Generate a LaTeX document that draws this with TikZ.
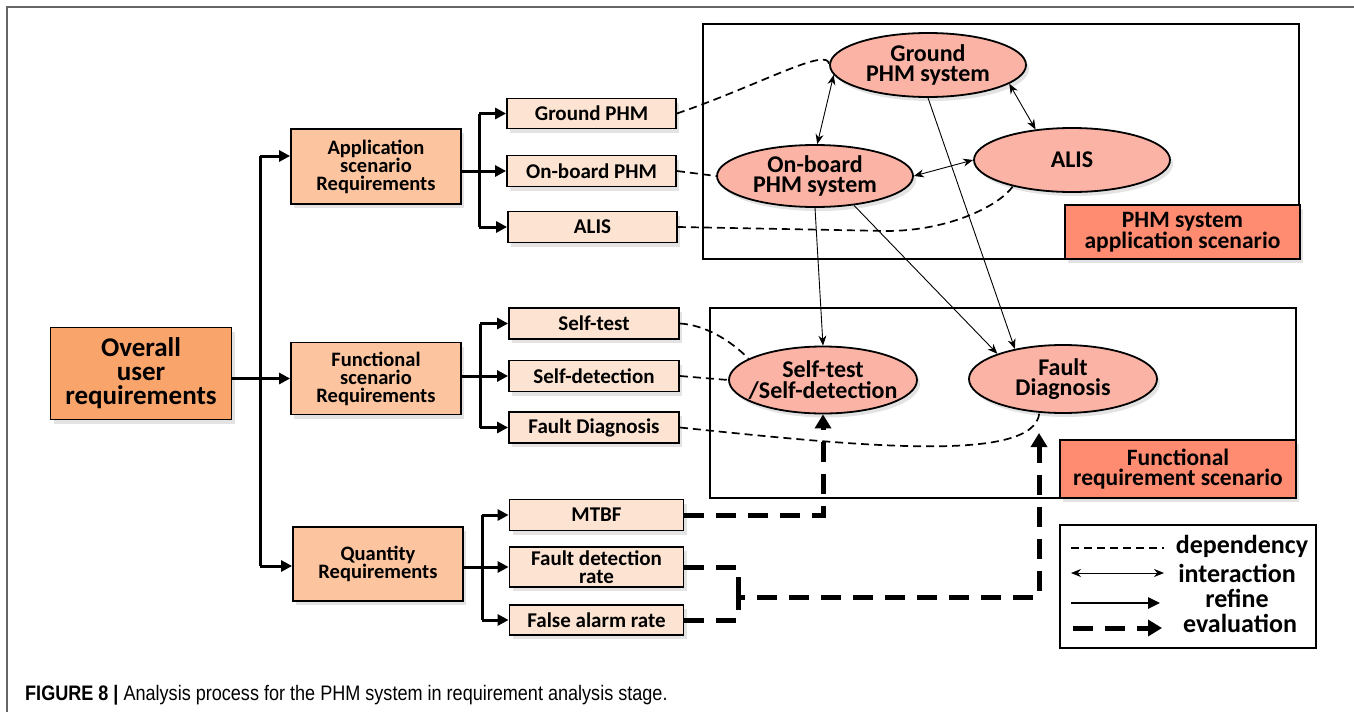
\documentclass[tikz,border=0pt]{standalone}
\usepackage{fontspec}
\setmainfont{Carlito}
\newfontfamily\capfont{Liberation Sans}
\usetikzlibrary{shapes.geometric,arrows.meta,shadows}
\definecolor{cOver}{HTML}{F9A46B}
\definecolor{cReq}{HTML}{FCC49F}
\definecolor{cSmall}{HTML}{FDE3D1}
\definecolor{cEll}{HTML}{FBB3A5}
\definecolor{cLab}{HTML}{FF8B71}
\definecolor{cFrame}{HTML}{666666}
\begin{document}
\begin{tikzpicture}[x=1pt,y=-1pt,
  sh/.style={drop shadow={shadow xshift=3pt,shadow yshift=-4pt,opacity=0.22}},
  box/.style={rectangle,draw,line width=1.8pt,inner sep=0pt,align=center,sh},
  overbox/.style={box,fill=cOver,font=\bfseries\fontsize{27}{24}\selectfont},
  reqbox/.style={box,fill=cReq,minimum width=170pt,font=\bfseries\fontsize{20.5}{18}\selectfont},
  smallbox/.style={box,fill=cSmall,font=\bfseries\fontsize{21}{18}\selectfont},
  ell/.style={ellipse,draw,line width=1.8pt,fill=cEll,inner sep=0pt,sh},
  elltext/.style={align=center,font=\bfseries\fontsize{24}{20.5}\selectfont,inner sep=0pt},
  region/.style={rectangle,draw,line width=1.8pt,inner sep=0pt},
  labbox/.style={box,fill=cLab,font=\bfseries\fontsize{23.5}{20}\selectfont},
  legtext/.style={font=\bfseries\fontsize{26}{21}\selectfont,inner sep=0pt},
  treeline/.style={line width=3pt},
  tree/.style={treeline,-{Triangle[length=11pt,width=11pt]}},
  dep/.style={line width=1.7pt,dash pattern=on 8pt off 5pt},
  thin/.style={line width=0.9pt,-{Stealth[length=10pt,width=8pt]}},
  inter/.style={line width=0.9pt,{Stealth[length=10pt,width=8pt]}-{Stealth[length=10pt,width=8pt]}},
  evalline/.style={line width=5pt,dash pattern=on 20pt off 12pt},
  evalarrow/.style={evalline,-{Triangle[length=14pt,width=16pt]}}
]
\useasboundingbox (0,0) rectangle (1354,712);
\fill[white] (0,0) rectangle (1354,712);
\draw[cFrame,line width=1.5pt] (7,712) -- (7,7) -- (1354,7);

% regions
\node[region,minimum width=596pt,minimum height=235pt] (reg1) at (1001,141.5) {};
\node[region,minimum width=586pt,minimum height=190pt] (reg2) at (1003,403) {};

% left tree
\node[overbox,minimum width=181pt,minimum height=92pt] (over) at (141,373.5) {Overall\\user\\requirements};
\node[reqbox,minimum height=75pt] (app) at (376,166.5) {Application\\scenario\\Requirements};
\node[reqbox,minimum height=72pt] (fun) at (376,378.5) {Functional\\scenario\\Requirements};
\node[reqbox,minimum height=74pt] (qty) at (378,564) {Quantity\\Requirements};

\node[smallbox,minimum width=169pt,minimum height=30pt] (gphm) at (591.5,113.5) {Ground PHM};
\node[smallbox,minimum width=169pt,minimum height=31pt] (ophm) at (591.5,171) {On-board PHM};
\node[smallbox,minimum width=169pt,minimum height=31pt] (alisb) at (592.5,227) {ALIS};
\node[smallbox,minimum width=170pt,minimum height=31pt] (stest) at (594,323.5) {Self-test};
\node[smallbox,minimum width=170pt,minimum height=31pt] (sdet) at (594,376) {Self-detection};
\node[smallbox,minimum width=170pt,minimum height=31pt] (fdiag) at (594,427.5) {Fault Diagnosis};
\node[smallbox,minimum width=174pt,minimum height=31pt] (mtbf) at (596.5,515) {MTBF};
\node[smallbox,minimum width=174pt,minimum height=40pt] (fdr) at (596.5,567) {Fault detection\\rate};
\node[smallbox,minimum width=174pt,minimum height=30pt] (far) at (596.5,620) {False alarm rate};

% ellipses
\node[ell,minimum width=196pt,minimum height=64pt,label={[elltext]center:Ground\\PHM system}] (gell) at (928,65) {};
\node[ell,minimum width=196pt,minimum height=62pt,label={[elltext]center:On-board\\PHM system}] (oell) at (815,176) {};
\node[ell,minimum width=196pt,minimum height=64pt,label={[elltext]center:ALIS}] (aell) at (1072,160) {};
\node[ell,minimum width=188pt,minimum height=67pt,label={[elltext]center:Self-test\\/Self-detection}] (sell) at (823,380) {};
\node[ell,minimum width=188pt,minimum height=68pt,label={[elltext]center:Fault\\Diagnosis}] (fell) at (1063,379) {};

% label boxes
\node[labbox,minimum width=235pt,minimum height=54pt] (lab1) at (1182.5,232) {PHM system\\application scenario};
\node[labbox,minimum width=236pt,minimum height=58pt] (lab2) at (1178,469) {Functional\\requirement scenario};

% tree connectors
\coordinate (ta) at (260,156);
\coordinate (tq) at (260,566);
\coordinate (ba) at (479,170);
\coordinate (bf) at (480,378);
\coordinate (bq) at (482,567);
\draw[treeline] (ta) -- (tq);
\draw[tree] (ta) -- (app.west |- ta);
\draw[tree] (tq) -- (qty.west |- tq);
\draw[tree] (over.east |- fun.west) -- (fun.west);

\draw[tree] (app.east |- ophm.west) -- (ophm.west);
\draw[treeline] (ba |- gphm.west) -- (ba |- alisb.west);
\draw[tree] (ba |- gphm.west) -- (gphm.west);
\draw[tree] (ba |- alisb.west) -- (alisb.west);

\draw[tree] (fun.east |- sdet.west) -- (sdet.west);
\draw[treeline] (bf |- stest.west) -- (bf |- fdiag.west);
\draw[tree] (bf |- stest.west) -- (stest.west);
\draw[tree] (bf |- fdiag.west) -- (fdiag.west);

\draw[tree] (qty.east |- fdr.west) -- (fdr.west);
\draw[treeline] (bq |- mtbf.west) -- (bq |- far.west);
\draw[tree] (bq |- mtbf.west) -- (mtbf.west);
\draw[tree] (bq |- far.west) -- (far.west);

% dependency
\draw[dep] (gphm.east) .. controls (760,85) and (830,45) .. (gell.west);
\draw[dep] (ophm.east) -- (oell.west);
\coordinate (d3) at (886,231);
\draw[dep] (alisb.east) -- (d3) .. controls (950,231) and (1000,205) .. (aell.204);
\draw[dep] (stest.east) .. controls (705,325) and (730,340) .. (sell.164);
\draw[dep] (sdet.east) -- (sell.west);
\draw[dep] (fdiag.east) .. controls (850,445) and (1035,465) .. (fell.235);

% interaction
\draw[inter] (gell.186) -- (oell.86);
\draw[inter] (gell.347) -- (aell.140);
\draw[inter] (oell.east) -- (aell.west);

% refine
\draw[thin] (oell.south) -- (sell.north);
\draw[thin] (oell.323) -- (fell.159);
\draw[thin] (gell.south) -- (fell.148);

% evaluation
\draw[evalarrow] (mtbf.east) -| (sell.south);
\coordinate (ej) at (738,597);
\coordinate (et) at (1039,433);
\draw[evalline] (fdr.east) -| (ej);
\draw[evalarrow] (far.east) -| (ej) -| (et);

% legend
\node[region,minimum width=256pt,minimum height=123pt] (leg) at (1188,586.5) {};
\coordinate (l1a) at (1071,548); \coordinate (l1b) at (1164,548);
\coordinate (l2a) at (1071,573); \coordinate (l2b) at (1164,573);
\coordinate (l3a) at (1071,603); \coordinate (l3b) at (1160,603);
\coordinate (l4a) at (1073,628); \coordinate (l4b) at (1162,628);
\draw[line width=1.5pt,dash pattern=on 8pt off 5pt] (l1a) -- (l1b);
\draw[inter] (l2a) -- (l2b);
\draw[line width=2.5pt,-{Triangle[length=12pt,width=11pt]}] (l3a) -- (l3b);
\draw[evalarrow] (l4a) -- (l4b);
\node[legtext] (tdep) at (1242,546) {dependency};
\node[legtext] (tint) at (1237,573) {interaction};
\node[legtext] (tref) at (1237,598) {refine};
\node[legtext] (tev) at (1240,623) {evaluation};

% caption
\node[anchor=base west,inner sep=0pt,font=\capfont\fontsize{21}{21}\selectfont] (cap) at (25,700)
  {\scalebox{0.86}[1]{\textbf{FIGURE 8 |} Analysis process for the PHM system in requirement analysis stage.}};
\end{tikzpicture}
\end{document}
